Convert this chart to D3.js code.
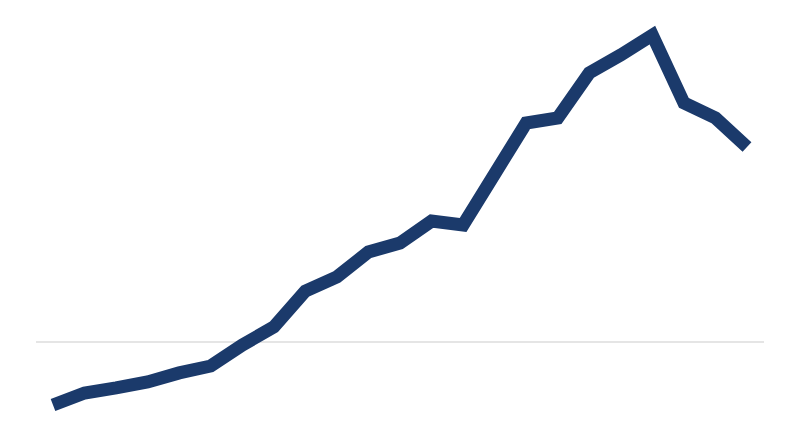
<!DOCTYPE html>
<html>
<head>
<meta charset="utf-8">
<script src="https://cdn.jsdelivr.net/npm/d3@7"></script>
<style>
  html, body { margin: 0; padding: 0; background: #fff; }
</style>
</head>
<body>
<svg id="chart"></svg>
<script>
const WIDTH = 800;
const HEIGHT = 447;

// one point per period
const periods = d3.range(23).map((i) => "p" + i);
const values = [
  -21, -17, -15.3, -13.3, -10.3, -8, -1, 5, 17, 21.7, 30, 33,
  40.3, 39, 56, 73, 74.7, 89.7, 95.7, 102.3, 79.7, 74.7, 65
];
const baseline = [0];

const lineColor = "#1b3a6b";
const ruleColor = "#dcdcdc";

const svg = d3.select("#chart").attr("width", WIDTH).attr("height", HEIGHT);

const x = d3.scalePoint().domain(periods).range([53, 747]);
const y = d3.scaleLinear().domain([0, 100]).range([342, 42]);

// zero rule
svg
  .selectAll("line.rule")
  .data(baseline)
  .enter()
  .append("line")
  .attr("class", "rule")
  .attr("x1", 36)
  .attr("x2", 764)
  .attr("y1", (d) => y(d))
  .attr("y2", (d) => y(d))
  .attr("stroke", ruleColor)
  .attr("stroke-width", 1.5);

const line = d3
  .line()
  .x((d, i) => x(periods[i]))
  .y((d) => y(d));

svg
  .append("path")
  .datum(values)
  .attr("d", line)
  .attr("fill", "none")
  .attr("stroke", lineColor)
  .attr("stroke-width", 13)
  .attr("stroke-linejoin", "miter")
  .attr("stroke-linecap", "butt");
</script>
</body>
</html>
